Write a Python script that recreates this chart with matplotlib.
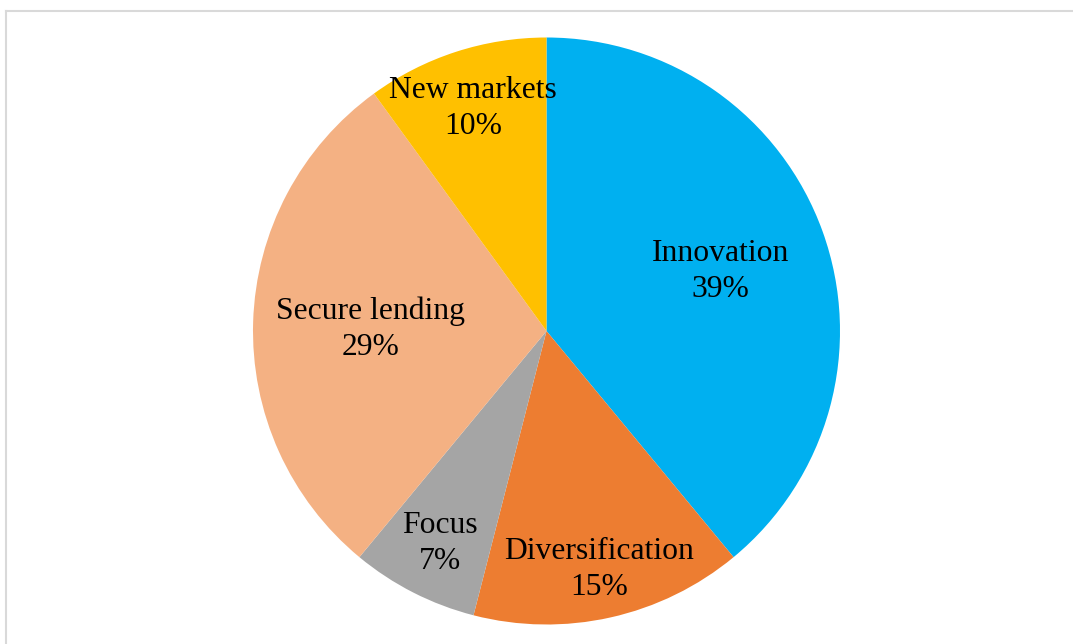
import numpy as np
import matplotlib.pyplot as plt
from matplotlib.lines import Line2D

# shares of each strategy, clockwise from 12 o'clock
labels = ['Innovation', 'Diversification', 'Focus', 'Secure lending', 'New markets']
shares = [39, 15, 7, 29, 10]
colors = ['#00B0F0', '#ED7D31', '#A5A5A5', '#F4B183', '#FFC000']
# radial position of each label (fraction of radius)
label_r = [0.63, 0.82, 0.80, 0.60, 0.81]

plt.rcParams['font.family'] = ['Liberation Serif', 'DejaVu Serif']

fig = plt.figure(figsize=(10.73, 6.44), dpi=100)
ax = fig.add_axes([0, 0, 1, 1])

wedges, _ = ax.pie(shares, colors=colors, startangle=90, counterclock=False,
                   radius=1, center=(0, 0))

# pixel -> data scale
s = 293.5
total = sum(shares)
for w, lab, v, rr in zip(wedges, labels, shares, label_r):
    mid = np.deg2rad((w.theta1 + w.theta2) / 2)
    ax.text(rr * np.cos(mid), rr * np.sin(mid) - 3.5 / s,
            '%s\n%d%%' % (lab, round(100 * v / total)),
            ha='center', va='center', fontsize=22.8, linespacing=1.31,
            color='black')

# centre the pie at (546.5, 313) px with 293.5 px radius
ax.set_aspect('auto')
ax.set_xlim(-546.5 / s, (1073 - 546.5) / s)
ax.set_ylim(-313 / s, (644 - 313) / s)
ax.axis('off')

# thin grey chart frame (left and top edges)
x0 = 6 / 1073
y0 = 1 - 11 / 644
fig.add_artist(Line2D([x0, x0], [-0.1, y0], transform=fig.transFigure,
                      color='#D9D9D9', lw=1.5))
fig.add_artist(Line2D([x0, 1.1], [y0, y0], transform=fig.transFigure,
                      color='#D9D9D9', lw=1.5))

fig.savefig('out.png', dpi=100, facecolor='white')
